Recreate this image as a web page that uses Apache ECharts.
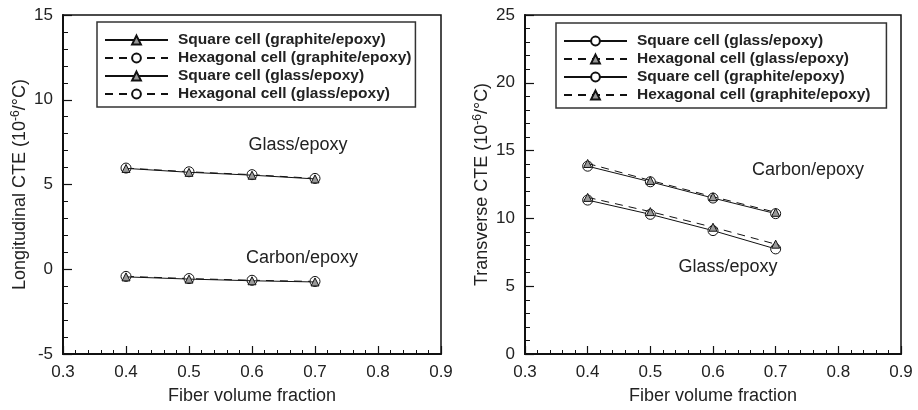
<!DOCTYPE html>
<html>
<head>
<meta charset="utf-8">
<script src="https://cdn.jsdelivr.net/npm/echarts@6/dist/echarts.min.js"></script>
<style>
html, body { margin: 0; padding: 0; background: #fff; }
#main { width: 918px; height: 410px; }
</style>
</head>
<body>
<div id="main"></div>
<script>
// fiber volume fractions
var fractions = [0.4, 0.5, 0.6, 0.7];

// longitudinal CTE, left panel
var longSquareGraphite = [-0.45, -0.58, -0.68, -0.75];
var longHexGraphite = [-0.42, -0.55, -0.65, -0.72];
var longSquareGlass = [5.95, 5.72, 5.55, 5.33];
var longHexGlass = [5.97, 5.75, 5.58, 5.36];

// transverse CTE, right panel
var transSquareGlass = [11.35, 10.3, 9.1, 7.75];
var transHexGlass = [11.55, 10.5, 9.35, 8.1];
var transSquareGraphite = [13.85, 12.7, 11.5, 10.35];
var transHexGraphite = [14.05, 12.8, 11.6, 10.45];

// tick labels
var xTicks = [0.3, 0.4, 0.5, 0.6, 0.7, 0.8, 0.9];
var leftYTicks = [-5, 0, 5, 10, 15];
var rightYTicks = [0, 5, 10, 15, 20, 25];

// legend names (prefix keeps the two panels apart)
var leftNames = ['L|Square cell (graphite/epoxy)', 'L|Hexagonal cell (graphite/epoxy)',
                 'L|Square cell (glass/epoxy)', 'L|Hexagonal cell (glass/epoxy)'];
var rightNames = ['R|Square cell (glass/epoxy)', 'R|Hexagonal cell (glass/epoxy)',
                  'R|Square cell (graphite/epoxy)', 'R|Hexagonal cell (graphite/epoxy)'];

var FONT = '"Liberation Sans", Arial, Helvetica, sans-serif';

function pairs(ys) {
    return fractions.map(function (x, i) { return [x, ys[i]]; });
}

function line(name, ys, idx, shape, dashed) {
    var tri = shape === 'triangle';
    return {
        name: name,
        type: 'line',
        xAxisIndex: idx,
        yAxisIndex: idx,
        data: pairs(ys),
        symbol: tri ? 'triangle' : 'circle',
        symbolSize: tri ? 8 : 10,
        z: tri ? 4 : 3,
        lineStyle: { color: '#111', width: 1, type: dashed ? [8, 6] : 'solid' },
        itemStyle: { color: tri ? '#999' : '#fff', borderColor: '#111', borderWidth: 1 },
        emphasis: { disabled: true },
        animation: false
    };
}

function xAxis(idx) {
    return {
        type: 'value', gridIndex: idx,
        min: xTicks[0], max: xTicks[xTicks.length - 1], interval: 0.1,
        name: 'Fiber volume fraction', nameLocation: 'middle', nameGap: 33,
        nameTextStyle: { fontFamily: FONT, fontSize: 18, color: '#222' },
        axisLine: { onZero: false, lineStyle: { color: '#111', width: 2 } },
        axisTick: { inside: true, length: 8, lineStyle: { color: '#111', width: 1.2 } },
        minorTick: { show: true, splitNumber: 5, length: 4, lineStyle: { color: '#111', width: 1 } },
        axisLabel: { fontFamily: FONT, fontSize: 17, color: '#222', margin: 10,
                     formatter: function (v) { return v.toFixed(1); } },
        splitLine: { show: false }
    };
}

function yAxis(idx, ticks, title) {
    return {
        type: 'value', gridIndex: idx,
        min: ticks[0], max: ticks[ticks.length - 1], interval: 5,
        name: title, nameLocation: 'middle', nameGap: 33,
        nameTextStyle: { fontFamily: FONT, fontSize: 18, color: '#222',
                         rich: { sup: { fontFamily: FONT, fontSize: 12, color: '#222', verticalAlign: 'top', padding: [0, 0, 8, 0] } } },
        axisLine: { onZero: false, lineStyle: { color: '#111', width: 2 } },
        axisTick: { inside: true, length: 9, lineStyle: { color: '#111', width: 1.2 } },
        minorTick: { show: true, splitNumber: 5, length: 5, lineStyle: { color: '#111', width: 1 } },
        axisLabel: { fontFamily: FONT, fontSize: 17, color: '#222', margin: 10 },
        splitLine: { show: false }
    };
}

function legend(names, left, top, padRight) {
    return {
        orient: 'vertical', left: left, top: top,
        padding: [10, padRight, 5, 7],
        borderColor: '#333', borderWidth: 1.5,
        itemWidth: 63, itemHeight: 11, itemGap: 2,
        selectedMode: false,
        textStyle: { fontFamily: FONT, fontSize: 15.5, fontWeight: 'bold', color: '#222', lineHeight: 15, padding: [0, 0, 0, 5] },
        formatter: function (n) { return n.split('|')[1]; },
        data: names
    };
}

function note(text, x, y) {
    return { type: 'text', x: x, y: y,
             style: { text: text, font: '18px ' + FONT, fill: '#222', textAlign: 'center', textVerticalAlign: 'middle' } };
}

var myChart = echarts.init(document.getElementById('main'));
myChart.setOption({
    animation: false,
    grid: [
        { left: 63, top: 15, width: 378, height: 340, show: true, borderColor: '#111', borderWidth: 1.5 },
        { left: 525, top: 15, width: 376, height: 340, show: true, borderColor: '#111', borderWidth: 1.5 }
    ],
    xAxis: [xAxis(0), xAxis(1)],
    yAxis: [
        yAxis(0, leftYTicks, 'Longitudinal CTE (10{sup|-6}/°C)'),
        yAxis(1, rightYTicks, 'Transverse CTE (10{sup|-6}/°C)')
    ],
    legend: [legend(leftNames, 97, 22, 4), legend(rightNames, 556, 23, 16)],
    graphic: { elements: [
        note('Glass/epoxy', 298, 145),
        note('Carbon/epoxy', 302, 258),
        note('Carbon/epoxy', 808, 170),
        note('Glass/epoxy', 728, 267)
    ] },
    series: [
        line(leftNames[0], longSquareGraphite, 0, 'triangle', false),
        line(leftNames[1], longHexGraphite, 0, 'circle', true),
        line(leftNames[2], longSquareGlass, 0, 'triangle', false),
        line(leftNames[3], longHexGlass, 0, 'circle', true),
        line(rightNames[0], transSquareGlass, 1, 'circle', false),
        line(rightNames[1], transHexGlass, 1, 'triangle', true),
        line(rightNames[2], transSquareGraphite, 1, 'circle', false),
        line(rightNames[3], transHexGraphite, 1, 'triangle', true)
    ]
});
</script>
</body>
</html>
